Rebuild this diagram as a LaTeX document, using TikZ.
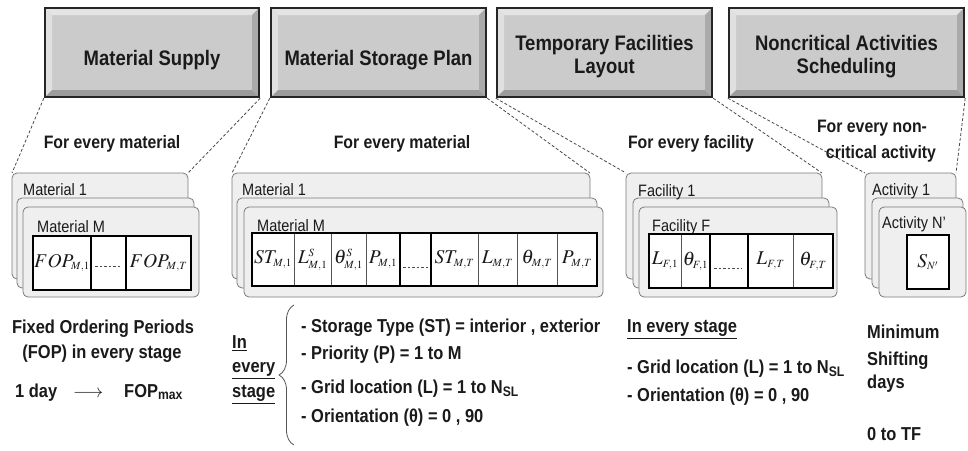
\documentclass[tikz,border=0pt]{standalone}
\usepackage{mathptmx}
\usepackage[no-math]{fontspec}
\setmainfont{Liberation Sans}[FakeStretch=0.88]
\DeclareMathSizes{19.5}{19.5}{11}{8.5}
\usetikzlibrary{calc,decorations.pathreplacing}
\definecolor{txt}{HTML}{1A1A1A}
\definecolor{boxface}{HTML}{CBCBCB}
\definecolor{boxedge}{HTML}{262626}
\definecolor{bevlight}{HTML}{E4E4E4}
\definecolor{bevdark}{HTML}{9C9C9C}
\definecolor{cardfill}{HTML}{EFEFEF}
\definecolor{cardedge}{HTML}{7A7A7A}
\definecolor{thinl}{HTML}{555555}
\definecolor{dashc}{HTML}{4A4A4A}
\newcommand\titlefont{\fontsize{21}{24}\selectfont\bfseries}
\newcommand\forfont{\fontsize{18}{21}\selectfont\bfseries}
\newcommand\cardfont{\fontsize{16.5}{19}\selectfont}
\newcommand\botfont{\fontsize{18.7}{22}\selectfont\bfseries}
\newcommand\cellfont{\fontsize{19.5}{22}\selectfont}
\begin{document}
\begin{tikzpicture}[x=1pt,y=-1pt,
  bevbox/.style={draw=boxedge, line width=2.4pt, fill=boxface, inner sep=0pt,
    path picture={
      \coordinate (pnw) at (path picture bounding box.north west);
      \coordinate (pne) at (path picture bounding box.north east);
      \coordinate (psw) at (path picture bounding box.south west);
      \coordinate (pse) at (path picture bounding box.south east);
      \fill[bevlight] (pnw) -- (pne) -- ([xshift=-7pt,yshift=-7pt]pne) -- ([xshift=7pt,yshift=-7pt]pnw) -- cycle;
      \fill[bevlight!85!boxface] (pnw) -- (psw) -- ([xshift=7pt,yshift=7pt]psw) -- ([xshift=7pt,yshift=-7pt]pnw) -- cycle;
      \fill[bevdark] (psw) -- (pse) -- ([xshift=-7pt,yshift=7pt]pse) -- ([xshift=7pt,yshift=7pt]psw) -- cycle;
      \fill[bevdark!70!boxface] (pse) -- (pne) -- ([xshift=-7pt,yshift=-7pt]pne) -- ([xshift=-7pt,yshift=7pt]pse) -- cycle;
    }},
  ttl/.style={anchor=base, text=txt, font=\titlefont, inner sep=0pt},
  forl/.style={anchor=base, text=txt, font=\forfont, inner sep=0pt},
  card/.style={draw=cardedge, fill=cardfill, rounded corners=5pt, line width=0.8pt, anchor=north west, inner sep=0pt, outer sep=0pt},
  cardl/.style={anchor=base west, text=txt, font=\cardfont, inner sep=0pt},
  cell/.style={draw=thinl, fill=white, line width=0.7pt, anchor=north west, inner sep=0pt, outer sep=0pt, font=\cellfont, text=txt},
  frame/.style={draw=black, line width=2.6pt},
  dashl/.style={draw=dashc, line width=0.7pt, dash pattern=on 2.5pt off 2pt},
  link/.style={draw=dashc, line width=0.8pt, dash pattern=on 3pt off 2pt},
  bot/.style={anchor=base west, text=txt, font=\botfont, inner sep=0pt},
  botc/.style={anchor=base, text=txt, font=\botfont, inner sep=0pt}
]
\useasboundingbox (0,0) rectangle (968,450);

% ---------- top boxes ----------
\node[bevbox, minimum width=214pt, minimum height=89pt] (b1) at (152,52.5) {};
\node[bevbox, minimum width=215pt, minimum height=89pt] (b2) at (378.5,52.5) {};
\node[bevbox, minimum width=215pt, minimum height=89pt] (b3) at (604.5,52.5) {};
\node[bevbox, minimum width=235pt, minimum height=89pt] (b4) at (846.5,52.5) {};
\node[ttl] (b1t) at (152,65) {Material Supply};
\node[ttl] (b2t) at (378.5,65) {Material Storage Plan};
\node[ttl] (b3t) at (604.5,50) {Temporary Facilities};
\node[ttl] (b3u) at (604.5,73) {Layout};
\node[ttl] (b4t) at (846.5,50) {Noncritical Activities};
\node[ttl] (b4u) at (846.5,73) {Scheduling};

% ---------- for-every labels ----------
\node[forl] (f1) at (112,148) {For every material};
\node[forl] (f2) at (402,148) {For every material};
\node[forl] (f3) at (691,148) {For every facility};
\node[forl] (f4) at (872,132) {For every non-};
\node[forl] (f5) at (881,158) {critical activity};

% ---------- material supply stack ----------
\node[card, minimum width=176pt, minimum height=106pt] (m1a) at (12,173) {};
\node[card, minimum width=177pt, minimum height=90pt] (m1b) at (17,198) {};
\node[card, minimum width=176pt, minimum height=90pt] (m1c) at (23,207) {};
\node[cardl] (m1l) at (23,195) {Material 1};
\node[cardl] (m1m) at (37,232) {Material M};
\node[cell, minimum width=58pt, minimum height=54pt] (t1) at (33,236) {$FOP_{M,1}$};
\node[cell, minimum width=35pt, minimum height=54pt] (t2) at (91,236) {};
\node[cell, minimum width=65pt, minimum height=54pt] (t3) at (126,236) {$FOP_{M,T}$};
\draw[dashl] (95,266) -- (121,266);
\draw[frame] (t1.north west) rectangle (t3.south east);
\draw[frame] (t2.north west) -- (t2.south west) (t2.north east) -- (t2.south east);

% ---------- storage stack ----------
\node[card, minimum width=358pt, minimum height=106pt] (s1a) at (232,173) {};
\node[card, minimum width=360pt, minimum height=90pt] (s1b) at (237,198) {};
\node[card, minimum width=359pt, minimum height=90pt] (s1c) at (244,207) {};
\node[cardl] (s1l) at (242,195) {Material 1};
\node[cardl] (s1m) at (257,231) {Material M};
\begin{scope}[every node/.append style={minimum height=53pt}]
\node[cell, minimum width=42pt] (u1) at (252,233) {$ST_{M,1}$};
\node[cell, minimum width=37pt] (u2) at (294,233) {$L^{S}_{M,1}$};
\node[cell, minimum width=35pt] (u3) at (331,233) {$\theta^{S}_{M,1}$};
\node[cell, minimum width=34pt] (u4) at (366,233) {$P_{M,1}$};
\node[cell, minimum width=31pt] (u5) at (400,233) {};
\node[cell, minimum width=47pt] (u6) at (431,233) {$ST_{M,T}$};
\node[cell, minimum width=39pt] (u7) at (478,233) {$L_{M,T}$};
\node[cell, minimum width=40pt] (u8) at (517,233) {$\theta_{M,T}$};
\node[cell, minimum width=40pt] (u9) at (557,233) {$P_{M,T}$};
\end{scope}
\draw[dashl] (403,267) -- (428,267);
\draw[frame] (u1.north west) rectangle (u9.south east);
\draw[frame] (u5.north west) -- (u5.south west) (u5.north east) -- (u5.south east);

% ---------- facility stack ----------
\node[card, minimum width=196pt, minimum height=106pt] (g1a) at (626,173) {};
\node[card, minimum width=196pt, minimum height=90pt] (g1b) at (633,198) {};
\node[card, minimum width=198pt, minimum height=90pt] (g1c) at (639,207) {};
\node[cardl] (g1l) at (638,196) {Facility 1};
\node[cardl] (g1m) at (652,231) {Facility F};
\begin{scope}[every node/.append style={minimum height=54pt}]
\node[cell, minimum width=32pt] (v1) at (649,234) {$L_{F,1}$};
\node[cell, minimum width=29pt] (v2) at (681,234) {$\theta_{F,1}$};
\node[cell, minimum width=38pt] (v3) at (710,234) {};
\node[cell, minimum width=45pt] (v4) at (748,234) {$L_{F,T}$};
\node[cell, minimum width=40pt] (v5) at (793,234) {$\theta_{F,T}$};
\end{scope}
\draw[dashl] (714,268) -- (742,268);
\draw[frame] (v1.north west) rectangle (v5.south east);
\draw[frame] (v3.north west) -- (v3.south west) (v3.north east) -- (v3.south east);

% ---------- activity stack ----------
\node[card, minimum width=91pt, minimum height=106pt] (a1a) at (865,173) {};
\node[card, minimum width=91pt, minimum height=90pt] (a1b) at (872,198) {};
\node[card, minimum width=87pt, minimum height=90pt] (a1c) at (879,207) {};
\node[cardl] (a1l) at (872,195) {Activity 1};
\node[cardl] (a1m) at (882,228) {Activity N'};
\node[cell, minimum width=42pt, minimum height=54pt] (w1) at (907,235) {$S_{N'}$};
\draw[frame] (w1.north west) rectangle (w1.south east);

% ---------- dashed links ----------
\draw[link] (b1.south west) -- (m1a.north west);
\draw[link] (b1.south east) -- (m1a.north east);
\draw[link] (b2.south west) -- (s1a.north west);
\draw[link] (b2.south east) -- (s1a.north east);
\draw[link] (b3.south west) -- (g1a.north west);
\draw[link] (b3.south east) -- (g1a.north east);
\draw[link] (b4.south west) -- (a1a.north west);
\draw[link] (b4.south east) -- (a1a.north east);

% ---------- bottom texts ----------
\node[botc] (x1) at (103,333) {Fixed Ordering Periods};
\node[botc] (x2) at (102,358) {(FOP) in every stage};
\node[bot] (x3) at (15,397) {1 day};
\node[bot] (x4) at (73,397) {$\longrightarrow$};
\node[bot] (x5) at (124,397) {FOP\textsubscript{max}};

\node[bot] (y1) at (232,348) {\underline{In}};
\node[bot] (y2) at (232,372) {\underline{every}};
\node[bot] (y3) at (232,397) {\underline{stage}};
\coordinate (brt) at (294,305);
\coordinate (brb) at (294,445);
\draw[thinl, line width=0.8pt, decorate, decoration={brace, amplitude=15pt}] (brb) -- (brt);
\node[bot] (z1) at (301,332) {- Storage Type (ST) = interior , exterior};
\node[bot] (z2) at (301,359) {- Priority (P) = 1 to M};
\node[bot] (z3) at (301,393) {- Grid location (L) = 1 to N\textsubscript{SL}};
\node[bot] (z4) at (301,422) {- Orientation (θ) = 0 , 90};

\node[bot] (q1) at (627,332) {\underline{In every stage}};
\node[bot] (q2) at (627,373) {- Grid location (L) = 1 to N\textsubscript{SL}};
\node[bot] (q3) at (627,401) {- Orientation (θ) = 0 , 90};

\node[bot] (r1) at (867,338) {Minimum};
\node[bot] (r2) at (867,365) {Shifting};
\node[bot] (r3) at (867,388) {days};
\node[bot] (r4) at (867,440) {0 to TF};
\end{tikzpicture}
\end{document}
